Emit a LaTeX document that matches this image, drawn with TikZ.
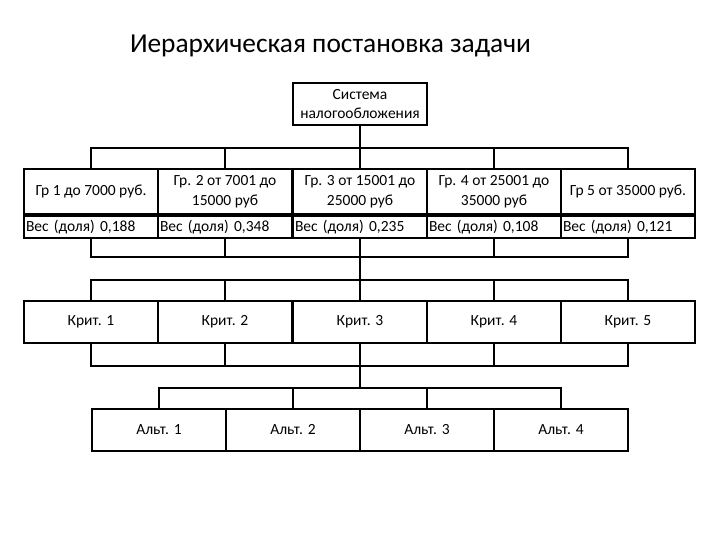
\documentclass[tikz,border=0pt]{standalone}
\usepackage{fontspec}
\setmainfont{Carlito}
\newcommand{\boxFont}[0]{\fontsize{15.5}{19.5}\selectfont}

\begin{document}
\begin{tikzpicture}[x=1pt, y=-1pt, line width=2pt]
  \tikzset{every node/.style={inner sep=0pt},
    box/.style={draw, minimum width=134pt, minimum height=42pt, align=center, font=\boxFont},
    group box/.style={box, minimum height=45pt},
    weight box/.style={draw, minimum height=22pt, text width=130pt, inner xsep=2pt, align=left, font=\boxFont}}
  \useasboundingbox (0,0) rectangle (720,540);
  \node[anchor=base west, font=\fontsize{27.4}{32}\selectfont] (title) at (129,53) {Иерархическая постановка задачи};
  % goal
  \node[box] (sys) at (360,104) {Система\\налогообложения};
  % groups and weights
  \node[group box] (g1) at (91,191.5) {Гр 1 до 7000 руб.};
  \node[group box] (g2) at (225,191.5) {Гр. 2 от 7001 до\\15000 руб};
  \node[group box] (g3) at (360,191.5) {Гр. 3 от 15001 до\\25000 руб};
  \node[group box] (g4) at (494,191.5) {Гр. 4 от 25001 до\\35000 руб};
  \node[group box] (g5) at (628,191.5) {Гр 5 от 35000 руб.};
  \node[weight box, anchor=north] (w1) at (g1.south) {Вес (доля) 0,188};
  \node[weight box, anchor=north] (w2) at (g2.south) {Вес (доля) 0,348};
  \node[weight box, anchor=north] (w3) at (g3.south) {Вес (доля) 0,235};
  \node[weight box, anchor=north] (w4) at (g4.south) {Вес (доля) 0,108};
  \node[weight box, anchor=north] (w5) at (g5.south) {Вес (доля) 0,121};
  % criteria
  \foreach \i/\x in {1/91, 2/225, 3/360, 4/494, 5/628}
    \node[box] (k\i) at (\x,322) {Крит. \i};
  % alternatives
  \foreach \i/\x in {1/159, 2/293, 3/427, 4/561}
    \node[box] (a\i) at (\x,430) {Альт. \i};
  % buses
  \coordinate (bus1) at (360,148);
  \coordinate (bus2) at (360,257);
  \coordinate (bus3) at (360,280);
  \coordinate (bus4) at (360,366);
  \coordinate (bus5) at (360,388);
  \draw (sys.south) -- (bus1);
  \draw (bus2) -- (bus3);
  \draw (bus4) -- (bus5);
  \foreach \i in {1,...,5} {
    \draw (g\i.north) |- (bus1);
    \draw (w\i.south) |- (bus2);
    \draw (k\i.north) |- (bus3);
    \draw (k\i.south) |- (bus4);
  }
  \foreach \i in {1,...,4}
    \draw (a\i.north) |- (bus5);
\end{tikzpicture}
\end{document}
